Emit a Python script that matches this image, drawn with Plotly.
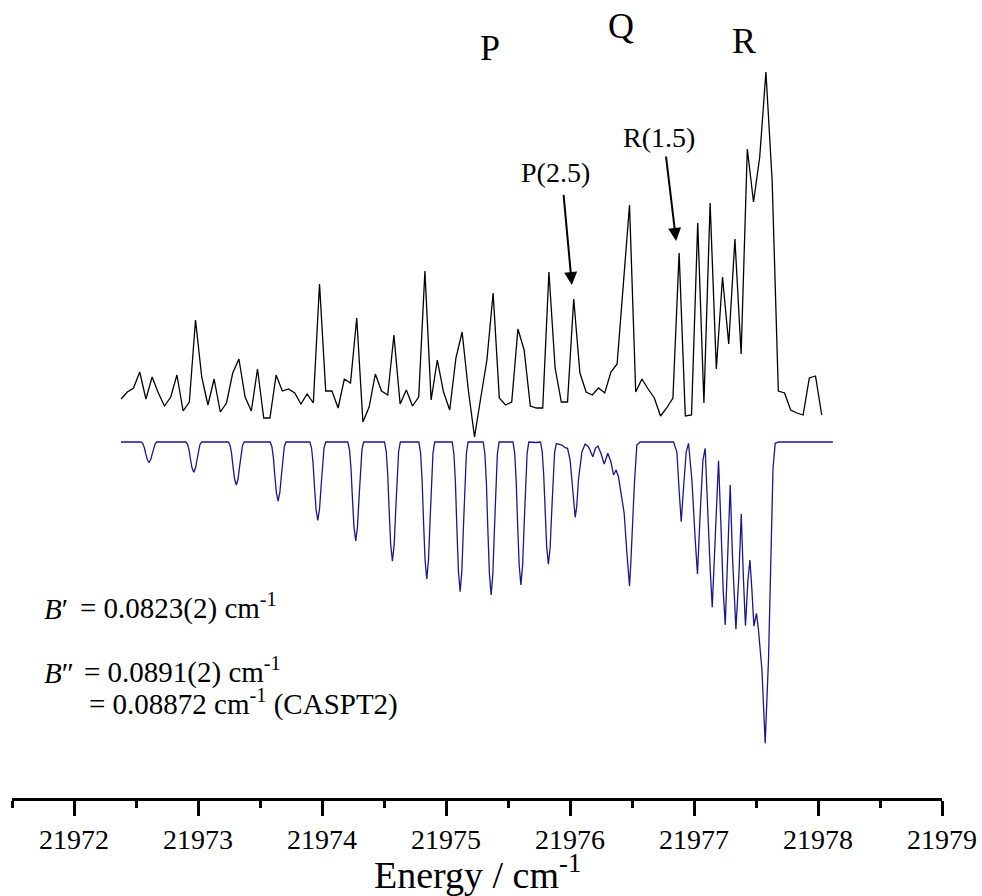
import plotly.graph_objects as go

# ---------------- data ----------------
# Experimental spectrum (energy in cm^-1, intensity in arbitrary units)
exp_energy = [
    21972.38, 21972.43, 21972.48, 21972.53, 21972.58, 21972.63, 21972.68, 21972.73, 21972.78, 21972.83,
    21972.88, 21972.93, 21972.98, 21973.03, 21973.08, 21973.13, 21973.18, 21973.23, 21973.28, 21973.33,
    21973.38, 21973.43, 21973.48, 21973.53, 21973.58, 21973.63, 21973.68, 21973.73, 21973.78, 21973.83,
    21973.88, 21973.93, 21973.98, 21974.03, 21974.08, 21974.13, 21974.18, 21974.23, 21974.28, 21974.33,
    21974.38, 21974.43, 21974.48, 21974.53, 21974.58, 21974.63, 21974.68, 21974.73, 21974.78, 21974.83,
    21974.88, 21974.93, 21974.98, 21975.03, 21975.08, 21975.13, 21975.18, 21975.23, 21975.28, 21975.33,
    21975.38, 21975.43, 21975.48, 21975.53, 21975.58, 21975.63, 21975.68, 21975.73, 21975.78, 21975.83,
    21975.88, 21975.93, 21975.98, 21976.03, 21976.08, 21976.13, 21976.18, 21976.23, 21976.28, 21976.33,
    21976.38, 21976.43, 21976.48, 21976.53, 21976.58, 21976.63, 21976.68, 21976.73, 21976.78, 21976.83,
    21976.88, 21976.93, 21976.98, 21977.03, 21977.08, 21977.13, 21977.18, 21977.23, 21977.28, 21977.33,
    21977.38, 21977.43, 21977.48, 21977.53, 21977.58, 21977.63, 21977.68, 21977.73, 21977.78, 21977.83,
    21977.88, 21977.93, 21977.98, 21978.03,
]
exp_intensity = [
    4.1, 4.8, 5.2, 6.8, 4.1, 6.3, 4.7, 3.4, 4.3, 6.5,
    2.9, 3.8, 12.0, 6.3, 3.5, 6.1, 2.8, 3.7, 6.7, 8.1,
    4.3, 2.9, 7.1, 2.2, 2.2, 6.5, 4.9, 5.1, 4.7, 3.6,
    4.6, 3.7, 15.6, 4.9, 4.9, 3.2, 6.1, 5.7, 12.2, 1.8,
    3.3, 6.6, 4.9, 4.5, 10.5, 3.6, 5.0, 3.4, 4.3, 16.9,
    4.0, 8.0, 4.8, 3.0, 8.2, 10.8, 5.0, 0.3, 4.2, 8.0,
    14.7, 4.2, 3.5, 3.8, 11.1, 9.0, 3.4, 3.2, 3.2, 16.8,
    7.2, 3.8, 3.8, 14.1, 6.7, 4.8, 4.5, 5.2, 4.7, 6.8,
    7.6, 15.3, 23.5, 4.8, 6.1, 5.1, 4.2, 2.4, 3.2, 4.2,
    18.7, 2.4, 2.5, 21.7, 3.7, 23.7, 7.1, 16.3, 9.6, 20.1,
    8.6, 29.1, 23.8, 28.3, 36.8, 26.0, 4.9, 4.7, 3.0, 2.7,
    2.5, 6.2, 6.4, 2.5,
]

# Simulated spectrum (plotted inverted)
sim_energy = [
    21972.379,
    21972.541, 21972.555, 21972.567, 21972.578, 21972.591, 21972.605, 21972.619, 21972.632, 21972.643, 21972.655, 21972.669,
    21972.902, 21972.916, 21972.928, 21972.939, 21972.952, 21972.966, 21972.980, 21972.993, 21973.004, 21973.016, 21973.030,
    21973.245, 21973.259, 21973.271, 21973.282, 21973.295, 21973.309, 21973.323, 21973.336, 21973.347, 21973.359, 21973.373,
    21973.582, 21973.596, 21973.608, 21973.619, 21973.632, 21973.646, 21973.660, 21973.673, 21973.684, 21973.696, 21973.710,
    21973.902, 21973.916, 21973.928, 21973.939, 21973.952, 21973.966, 21973.980, 21973.993, 21974.004, 21974.016, 21974.030,
    21974.208, 21974.222, 21974.234, 21974.245, 21974.258, 21974.272, 21974.286, 21974.299, 21974.310, 21974.322, 21974.336,
    21974.504, 21974.518, 21974.530, 21974.541, 21974.554, 21974.568, 21974.582, 21974.595, 21974.606, 21974.618, 21974.632,
    21974.781, 21974.795, 21974.807, 21974.818, 21974.831, 21974.845, 21974.859, 21974.872, 21974.883, 21974.895, 21974.909,
    21975.050, 21975.064, 21975.076, 21975.087, 21975.100, 21975.114, 21975.128, 21975.141, 21975.152, 21975.164, 21975.178,
    21975.300, 21975.314, 21975.326, 21975.337, 21975.350, 21975.364, 21975.378, 21975.391, 21975.402, 21975.414, 21975.428,
    21975.540, 21975.554, 21975.566, 21975.577, 21975.590, 21975.604, 21975.618, 21975.631, 21975.642, 21975.654, 21975.668,
    21975.727,
    21975.762, 21975.776, 21975.788, 21975.799, 21975.812, 21975.826, 21975.840, 21975.853, 21975.864, 21975.876, 21975.890,
    21975.934, 21975.961, 21975.980, 21976.001, 21976.021, 21976.030, 21976.042, 21976.054, 21976.068,
    21976.096, 21976.122, 21976.149, 21976.184, 21976.205, 21976.225, 21976.249, 21976.276, 21976.305,
    21976.330, 21976.351, 21976.372, 21976.391, 21976.418, 21976.437, 21976.459, 21976.470, 21976.480,
    21976.490, 21976.501, 21976.520, 21976.539, 21976.566,
    21976.835, 21976.862, 21976.881, 21976.897, 21976.912, 21976.937, 21976.956, 21976.983, 21977.010,
    21977.028, 21977.050, 21977.072, 21977.090, 21977.109, 21977.131, 21977.147, 21977.171, 21977.198,
    21977.217, 21977.236, 21977.252, 21977.270, 21977.292, 21977.311, 21977.338, 21977.362, 21977.381,
    21977.399, 21977.415, 21977.435, 21977.451, 21977.467, 21977.483, 21977.504, 21977.520, 21977.548,
    21977.574, 21977.601, 21977.620, 21977.637, 21977.655, 21977.682, 21978.120,
]
sim_intensity = [
    0.0,
    0.0, 0.16, 0.55, 1.14, 1.75, 2.03, 1.75, 1.14, 0.55, 0.16, 0.0,
    0.0, 0.24, 0.82, 1.70, 2.61, 3.03, 2.61, 1.70, 0.82, 0.24, 0.0,
    0.0, 0.34, 1.16, 2.41, 3.70, 4.30, 3.70, 2.41, 1.16, 0.34, 0.0,
    0.0, 0.47, 1.59, 3.30, 5.07, 5.90, 5.07, 3.30, 1.59, 0.47, 0.0,
    0.0, 0.63, 2.11, 4.38, 6.73, 7.83, 6.73, 4.38, 2.11, 0.63, 0.0,
    0.0, 0.79, 2.67, 5.54, 8.51, 9.90, 8.51, 5.54, 2.67, 0.79, 0.0,
    0.0, 0.95, 3.22, 6.68, 10.26, 11.93, 10.26, 6.68, 3.22, 0.95, 0.0,
    0.0, 1.10, 3.70, 7.67, 11.78, 13.70, 11.78, 7.67, 3.70, 1.10, 0.0,
    0.0, 1.20, 4.04, 8.38, 12.87, 14.97, 12.87, 8.38, 4.04, 1.20, 0.0,
    0.0, 1.22, 4.13, 8.57, 13.16, 15.30, 13.16, 8.57, 4.13, 1.22, 0.0,
    0.0, 1.14, 3.86, 8.01, 12.30, 14.30, 12.30, 8.01, 3.86, 1.14, 0.0,
    0.05,
    0.0, 0.98, 3.30, 6.85, 10.52, 12.23, 10.52, 6.85, 3.30, 0.98, 0.15,
    0.30, 0.57, 0.63, 1.80, 4.80, 6.40, 7.53, 6.50, 3.80,
    1.00, 0.20, 0.47, 1.47, 0.63, 0.40, 1.13, 2.20, 1.13,
    1.97, 3.30, 2.80, 3.47, 5.80, 7.13, 11.13, 12.90, 14.40,
    12.20, 8.80, 4.00, 0.30, 0.0,
    0.0, 1.00, 5.00, 7.97, 5.20, 1.00, 0.13, 3.80, 9.80,
    13.20, 7.10, 1.80, 0.63, 6.67, 12.80, 16.53, 10.00, 1.87,
    8.30, 15.00, 18.30, 11.67, 4.30, 11.67, 18.73, 13.33, 7.20,
    13.80, 18.37, 13.80, 11.80, 14.80, 18.40, 17.13, 18.80, 22.80,
    30.13, 21.67, 10.00, 2.67, 0.13, 0.0, 0.0,
]

tick_values = [21972, 21973, 21974, 21975, 21976, 21977, 21978, 21979]
tick_labels = ["21972", "21973", "21974", "21975", "21976", "21977", "21978", "21979"]

assert len(exp_energy) == len(exp_intensity)
assert len(sim_energy) == len(sim_intensity)

# ---------------- layout constants ----------------
EXP_OFFSET = 35.8   # vertical offset of the experimental trace
SIM_OFFSET = 35.6   # baseline of the (inverted) simulated trace
FONT = "'Liberation Serif', 'Times New Roman', Times, 'DejaVu Serif', serif"

fig = go.Figure()
fig.add_trace(go.Scatter(
    x=exp_energy, y=[EXP_OFFSET + v for v in exp_intensity],
    mode="lines", line=dict(color="black", width=1.3), hoverinfo="skip",
))
fig.add_trace(go.Scatter(
    x=sim_energy, y=[SIM_OFFSET - v for v in sim_intensity],
    mode="lines", line=dict(color="#17178f", width=1.3), hoverinfo="skip",
))

ann = []

def txt(x, y, s, size, xanchor="center", yanchor="bottom", xref="x"):
    ann.append(dict(x=x, y=y, xref=xref, yref="y", text=s, showarrow=False,
                    xanchor=xanchor, yanchor=yanchor,
                    font=dict(family=FONT, size=size, color="black")))

# Branch labels
txt(21975.356, 72.8, "P", 36)
txt(21976.413, 75.0, "Q", 36)
txt(21977.405, 73.5, "R", 36)
# Line labels
txt(21975.880, 60.8, "P(2.5)", 28)
txt(21976.714, 64.3, "R(1.5)", 28)
# Arrows
for (xh, yh, ax, ay) in [(21976.015, 51.3, -8.4, -91.7), (21976.856, 55.7, -10.3, -86.0)]:
    ann.append(dict(x=xh, y=yh, xref="x", yref="y", ax=ax, ay=ay, text="",
                    showarrow=True, arrowhead=2, arrowsize=1.3, arrowwidth=2,
                    arrowcolor="black", standoff=0))
# Rotational constants
txt(21971.739, 17.14, "<i>B</i>\u2032", 29, xanchor="left")
txt(21972.035, 17.14, "= 0.0823(2) cm<sup>-1</sup>", 29, xanchor="left")
txt(21971.739, 10.67, "<i>B</i>\u2033", 29, xanchor="left")
txt(21972.062, 10.67, "= 0.0891(2) cm<sup>-1</sup>", 29, xanchor="left")
txt(21972.102, 7.47, "= 0.08872 cm<sup>-1</sup> (CASPT2)", 29, xanchor="left")
# Axis title (paper coordinates so it is not hidden outside the y range)
ann.append(dict(x=0.5, y=-0.1253, xref="paper", yref="paper", text="Energy / cm<sup>-1</sup>",
                showarrow=False, xanchor="center", yanchor="bottom",
                font=dict(family=FONT, size=38, color="black")))

fig.update_layout(
    width=982, height=896,
    margin=dict(l=12, r=40, t=0, b=98, pad=0),
    plot_bgcolor="white", paper_bgcolor="white",
    showlegend=False,
    font=dict(family=FONT, color="black"),
    annotations=ann,
    xaxis=dict(
        range=[21971.5, 21979], tickvals=tick_values, ticktext=tick_labels,
        ticks="outside", ticklen=15, tickwidth=2.5, tickcolor="black",
        showline=True, linecolor="black", linewidth=2.5,
        showgrid=False, zeroline=False,
        tickfont=dict(family=FONT, size=28, color="black"),
        minor=dict(dtick=0.5, tick0=21971.5, ticks="outside", ticklen=7,
                   tickwidth=2.5, tickcolor="black", showgrid=False),
    ),
    yaxis=dict(visible=False, range=[0, 79.8], showgrid=False, zeroline=False),
)

fig.write_html("out.html")
